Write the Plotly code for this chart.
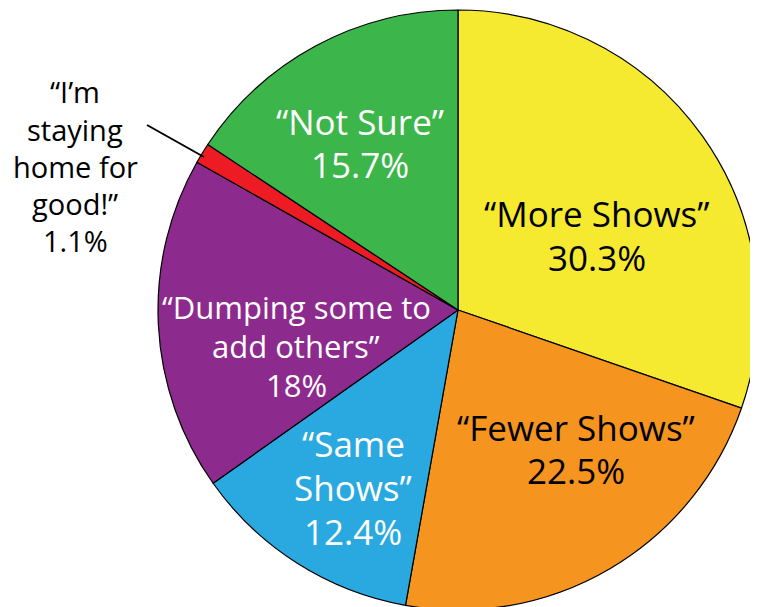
import plotly.graph_objects as go

W, H = 758, 607
OFF = 8  # page body margin offset

labels = ["More Shows", "Fewer Shows", "Same Shows", "Dumping some to add others",
          "I'm staying home for good!", "Not Sure"]
values = [30.3, 22.5, 12.4, 18, 1.1, 15.7]
value_text = ["30.3%", "22.5%", "12.4%", "18%", "1.1%", "15.7%"]
colors = ["#F6EA30", "#F5941F", "#2AA9E0", "#8D2A8D", "#ED1C24", "#3CB54A"]

# label lines as displayed
label_lines = [
    ["\u201cMore Shows\u201d", value_text[0]],
    ["\u201cFewer Shows\u201d", value_text[1]],
    ["\u201cSame", "Shows\u201d", value_text[2]],
    ["\u201cDumping some to", "add others\u201d", value_text[3]],
    ["\u201cI\u2019m", "staying", "home for", "good!\u201d", value_text[4]],
    ["\u201cNot Sure\u201d", value_text[5]],
]
text_colors = ["black", "black", "white", "white", "black", "white"]
# centres of the label blocks (screen pixel coords) and line spacing
label_pos = [(597, 235, 44), (576, 449, 43), (353, 487, 44), (296, 346, 39),
             (75, 166, 37), (360, 143, 43)]
font_sizes = [35, 35, 35, 31, 29, 35]

FONT = "Open Sans"

def px(x):
    return (x - OFF) / W

def py(y):
    return 1 - (y - OFF) / H

fig = go.Figure(go.Pie(
    labels=labels, values=values, sort=False, direction="clockwise", rotation=0,
    marker=dict(colors=colors, line=dict(color="black", width=1.2)),
    textinfo="none", hoverinfo="label+percent", showlegend=False,
    domain=dict(x=[(158 - OFF) / W, (758 - OFF) / W], y=[5 / H, 605 / H]),
))

annotations = []
for lines, col, (cx, cy, sp), fs in zip(label_lines, text_colors, label_pos, font_sizes):
    n = len(lines)
    for i, t in enumerate(lines):
        y = cy + (i - (n - 1) / 2) * sp
        annotations.append(dict(
            x=px(cx), y=py(y), xref="paper", yref="paper", text=t,
            showarrow=False, xanchor="center", yanchor="middle",
            font=dict(family=FONT, size=fs, color=col)))

fig.update_layout(
    width=W, height=H, margin=dict(l=0, r=0, t=0, b=0),
    paper_bgcolor="white", plot_bgcolor="white",
    annotations=annotations,
    shapes=[dict(type="line", xref="paper", yref="paper",
                 x0=px(147), y0=py(125), x1=px(204), y1=py(157),
                 line=dict(color="black", width=2))],
)
fig.write_html("out.html")
